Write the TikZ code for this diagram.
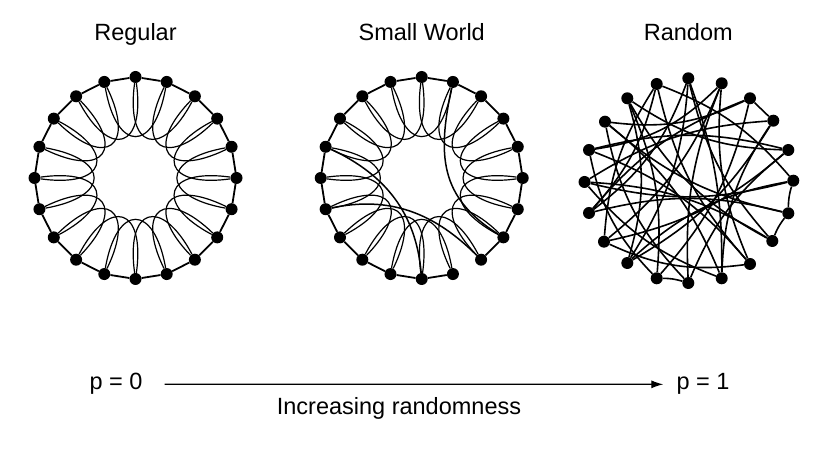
\documentclass[tikz,border=0pt]{standalone}
\usepackage{fontspec}
\setmainfont{Liberation Sans}
\usetikzlibrary{calc,arrows.meta}
\begin{document}
\begin{tikzpicture}[x=1pt,y=1pt,
  dot/.style={circle,fill=black,inner sep=0pt,minimum size=12pt},
  chord/.style={line width=1.8pt},
  loopedge/.style={line width=1.2pt},
  redge/.style={line width=1.6pt},
  rew/.style={line width=1.5pt},
  lbl/.style={font=\fontsize{23.5}{28}\selectfont,anchor=base,inner sep=0pt}]
\useasboundingbox (0,0) rectangle (838,462);
\coordinate (ca) at (135.5,284);
\coordinate (cb) at (421.7,284);
\foreach \k in {0,...,19}{
  \pgfmathsetmacro\ang{90-18*\k}
  \node[dot] (a\k) at ($(ca)+(\ang:101pt)$) {};
  \node[dot] (b\k) at ($(cb)+(\ang:101pt)$) {};
}
% regular ring lattice
\foreach \k in {0,...,19}{
  \pgfmathtruncatemacro\n{mod(\k+1,20)}
  \pgfmathtruncatemacro\m{mod(\k+2,20)}
  \pgfmathsetmacro\oa{270-18*\k-8}
  \pgfmathsetmacro\ia{270-18*(\k+2)+8}
  \draw[chord] (a\k) -- (a\n);
  \draw[loopedge] (a\k) to[out=\oa,in=\ia,looseness=2.8] (a\m);
  \ifnum\k=8\else\draw[chord] (b\k) -- (b\n);\fi
  \draw[loopedge] (b\k) to[out=\oa,in=\ia,looseness=2.8] (b\m);
}
% rewired shortcuts
\draw[rew] (b1) to[out=-102,in=148,looseness=1.15] (b7);
\draw[rew] (b16) to[out=-25,in=95] (b10);
\draw[rew] (b14) to[out=12,in=135] (b8);
% random graph
\node[dot] (r0) at (688.3,383.7) {};
\node[dot] (r1) at (721.7,378.7) {};
\node[dot] (r2) at (750,363.7) {};
\node[dot] (r3) at (773.3,341.3) {};
\node[dot] (r4) at (788.3,312) {};
\node[dot] (r5) at (793.3,281.3) {};
\node[dot] (r6) at (788.3,248.7) {};
\node[dot] (r7) at (772.3,221) {};
\node[dot] (r8) at (750,198) {};
\node[dot] (r9) at (721.7,183.7) {};
\node[dot] (r10) at (688.3,179) {};
\node[dot] (r11) at (656.7,183.7) {};
\node[dot] (r12) at (627.3,199) {};
\node[dot] (r13) at (604,220.3) {};
\node[dot] (r14) at (589,249) {};
\node[dot] (r15) at (584.5,280) {};
\node[dot] (r16) at (589,312) {};
\node[dot] (r17) at (605,340.3) {};
\node[dot] (r18) at (627.3,363.7) {};
\node[dot] (r19) at (656.7,378) {};
\foreach \i/\j/\b in {2/3/0,5/6/-8,6/7/-8,10/11/-8,
  0/12/14,0/7/-14,0/9/10,0/14/16,
  1/13/14,1/10/-12,1/16/18,1/8/-14,
  2/14/-14,2/11/14,2/17/16,
  3/15/-14,3/12/14,3/9/-16,
  4/16/-14,4/13/14,4/10/-14,4/18/16,
  5/15/14,5/19/-14,5/12/-16,
  6/17/14,6/14/-14,
  7/18/16,7/15/-14,
  8/19/14,8/16/-14,8/13/16,
  9/17/-14,9/15/14,
  10/17/16,
  11/18/-14,11/16/16,
  12/18/-16,
  13/19/14,
  14/19/-14}{
  \draw[redge] (r\i) to[bend left=\b] (r\j);
}
% titles
\node[lbl] (t1) at (135.5,421) {Regular};
\node[lbl] (t2) at (421.7,421) {Small World};
\node[lbl] (t3) at (688.3,421) {Random};
% axis
\node[lbl] (p0) at (116,72) {p = 0};
\node[lbl] (p1) at (703,72) {p = 1};
\node[lbl] (inc) at (399,47) {Increasing randomness};
\draw[line width=1.2pt,-{Latex[length=12pt,width=8pt]},shorten <=22pt,shorten >=13pt] (p0) -- (p1);
\end{tikzpicture}
\end{document}
